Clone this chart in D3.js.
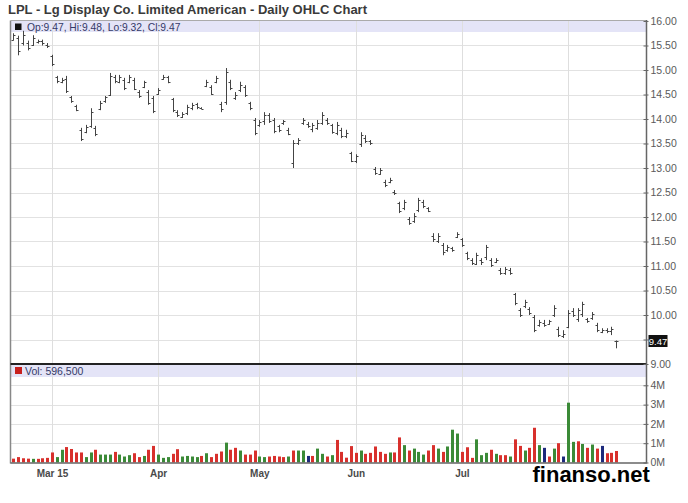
<!DOCTYPE html>
<html>
<head>
<meta charset="utf-8">
<script src="https://cdnjs.cloudflare.com/ajax/libs/d3/7.8.5/d3.min.js"></script>
<title>LPL - Daily OHLC Chart</title>
<style>
body {
	margin: 0;
	background: white;
}
svg text {
	font-family: "Liberation Sans", Arial, sans-serif;
}
.axis path {
	display: none;
}
</style>
</head>
<body>
<div id="chart"></div>
<script>

// -- data (prices in USD, volume in millions of shares)

var firstDay = "2015-02-18",
	lastDay = "2015-08-17";
var holidays = ["2015-04-03", "2015-05-25", "2015-07-03"];

var opens = [
	15.62, 15.65, 15.55, 15.55, 15.52, 15.58, 15.60, 15.52, 15.28, 14.85,
	14.76, 14.82, 14.45, 14.27, 13.78, 13.74, 13.86, 13.82, 14.20, 14.36,
	14.50, 14.85, 14.76, 14.80, 14.76, 14.80, 14.56, 14.66, 14.55, 14.42,
	14.52, 14.82, 14.85, 14.40, 14.15, 14.05, 14.12, 14.22, 14.30, 14.23,
	14.68, 14.65, 14.76, 14.30, 14.35, 14.75, 14.42, 14.60, 14.65, 14.32,
	13.98, 13.88, 13.95, 14.08, 13.98, 13.85, 13.92, 13.78, 13.10, 13.50,
	13.92, 13.90, 13.80, 13.82, 13.92, 13.98, 13.88, 13.72, 13.78, 13.65,
	13.30, 13.14, 13.48, 13.62, 13.55, 12.98, 12.88, 12.72, 12.72, 12.52,
	12.28, 12.18, 11.96, 11.92, 12.15, 12.30, 12.18, 11.62, 11.52, 11.42,
	11.32, 11.36, 11.60, 11.55, 11.26, 11.12, 11.05, 11.12, 11.18, 11.12,
	11.08, 10.92, 10.86, 10.92, 10.42, 10.10, 10.18, 10.12, 9.96, 9.80,
	9.84, 9.82, 10.00, 9.72, 9.58, 9.76, 10.08, 9.92, 10.02, 9.92,
	9.94, 9.80, 9.66, 9.70, 9.68, 9.47
];
var highs = [
	15.75, 15.70, 15.80, 15.60, 15.71, 15.62, 15.62, 15.55, 15.31, 14.88,
	14.84, 14.88, 14.47, 14.29, 13.82, 13.88, 14.22, 13.86, 14.37, 14.47,
	14.94, 14.90, 14.90, 14.84, 14.90, 14.84, 14.59, 14.78, 14.59, 14.47,
	14.63, 14.90, 14.88, 14.43, 14.18, 14.14, 14.29, 14.33, 14.33, 14.24,
	14.80, 14.69, 14.88, 14.35, 15.04, 14.80, 14.55, 14.76, 14.69, 14.35,
	14.02, 13.98, 14.14, 14.12, 14.02, 13.88, 13.98, 13.82, 13.57, 13.61,
	14.02, 13.94, 13.92, 13.98, 14.14, 14.02, 13.90, 13.94, 13.82, 13.78,
	13.33, 13.28, 13.73, 13.67, 13.57, 13.02, 13.00, 12.76, 12.80, 12.55,
	12.31, 12.35, 12.00, 12.08, 12.39, 12.35, 12.20, 11.67, 11.67, 11.47,
	11.43, 11.39, 11.69, 11.57, 11.29, 11.16, 11.27, 11.16, 11.43, 11.16,
	11.16, 10.96, 10.98, 10.96, 10.45, 10.14, 10.31, 10.16, 10.00, 9.90,
	9.90, 9.90, 10.20, 9.76, 9.69, 10.10, 10.14, 10.14, 10.27, 9.94,
	10.06, 9.84, 9.73, 9.73, 9.76, 9.48
];
var lows = [
	15.60, 15.30, 15.50, 15.40, 15.49, 15.54, 15.50, 15.45, 15.08, 14.73,
	14.73, 14.53, 14.33, 14.16, 13.55, 13.71, 13.82, 13.65, 14.18, 14.33,
	14.47, 14.73, 14.73, 14.59, 14.73, 14.59, 14.43, 14.63, 14.29, 14.12,
	14.49, 14.80, 14.73, 14.14, 14.04, 14.02, 14.08, 14.18, 14.20, 14.20,
	14.65, 14.49, 14.73, 14.14, 14.29, 14.59, 14.39, 14.55, 14.45, 14.18,
	13.67, 13.84, 13.88, 13.92, 13.71, 13.73, 13.88, 13.67, 13.00, 13.47,
	13.88, 13.82, 13.73, 13.78, 13.88, 13.88, 13.70, 13.67, 13.61, 13.61,
	13.12, 13.10, 13.43, 13.51, 13.47, 12.86, 12.86, 12.61, 12.69, 12.45,
	12.08, 12.14, 11.84, 11.88, 12.10, 12.18, 12.10, 11.49, 11.47, 11.22,
	11.29, 11.29, 11.57, 11.39, 11.12, 11.02, 11.02, 11.02, 11.12, 10.98,
	11.06, 10.82, 10.82, 10.82, 10.20, 9.96, 10.14, 10.00, 9.65, 9.76,
	9.76, 9.80, 9.96, 9.55, 9.53, 9.73, 9.96, 9.86, 9.96, 9.84,
	9.90, 9.65, 9.63, 9.63, 9.59, 9.32
];
var closes = [
	15.72, 15.38, 15.72, 15.45, 15.65, 15.60, 15.55, 15.48, 15.12, 14.78,
	14.80, 14.58, 14.36, 14.19, 13.60, 13.84, 14.15, 13.70, 14.32, 14.44,
	14.88, 14.78, 14.86, 14.63, 14.85, 14.62, 14.46, 14.75, 14.33, 14.16,
	14.60, 14.86, 14.76, 14.18, 14.08, 14.10, 14.24, 14.28, 14.25, 14.21,
	14.76, 14.52, 14.84, 14.20, 14.95, 14.64, 14.50, 14.70, 14.48, 14.22,
	13.72, 13.94, 14.08, 13.96, 13.76, 13.77, 13.95, 13.70, 13.52, 13.58,
	13.98, 13.86, 13.88, 13.92, 14.08, 13.92, 13.74, 13.88, 13.66, 13.72,
	13.15, 13.25, 13.68, 13.55, 13.50, 12.90, 12.96, 12.65, 12.76, 12.48,
	12.12, 12.30, 11.88, 12.02, 12.34, 12.22, 12.12, 11.55, 11.62, 11.28,
	11.38, 11.32, 11.66, 11.42, 11.16, 11.06, 11.22, 11.08, 11.38, 11.02,
	11.12, 10.86, 10.94, 10.85, 10.25, 10.00, 10.27, 10.04, 9.70, 9.86,
	9.80, 9.87, 10.15, 9.60, 9.62, 10.05, 10.00, 10.10, 10.22, 9.87,
	10.02, 9.70, 9.70, 9.68, 9.72, 9.47
];
var volumes = [
	0.20, 0.28, 0.22, 0.20, 0.19, 0.19, 0.22, 0.24, 0.52, 0.28,
	0.66, 0.80, 0.70, 0.52, 0.52, 0.28, 0.52, 0.66, 0.41, 0.41,
	0.41, 0.55, 0.41, 0.31, 0.38, 0.48, 0.28, 0.34, 0.66, 0.86,
	0.41, 0.24, 0.28, 0.45, 0.69, 0.31, 0.34, 0.31, 0.28, 0.34,
	0.48, 0.28, 0.45, 0.57, 1.03, 0.66, 0.76, 0.62, 0.41, 0.41,
	0.62, 0.31, 0.28, 0.31, 0.34, 0.31, 0.28, 0.31, 0.62, 0.62,
	0.62, 0.34, 0.34, 0.72, 0.45, 0.31, 0.38, 1.17, 0.55, 0.25,
	0.85, 0.50, 0.62, 0.45, 0.50, 0.83, 0.55, 0.45, 0.52, 0.52,
	1.30, 0.90, 0.62, 0.72, 0.55, 0.41, 0.62, 0.90, 0.72, 0.55,
	0.83, 1.70, 1.50, 0.55, 0.79, 0.24, 1.20, 0.38, 0.50, 0.66,
	0.45, 0.38, 0.38, 0.31, 1.20, 0.86, 0.62, 0.76, 1.80, 0.90,
	0.76, 0.31, 0.72, 1.00, 0.31, 3.10, 1.07, 1.10, 0.96, 0.76,
	0.93, 0.72, 0.86, 0.48, 0.50, 0.5965
];
// r = down, g = up, b = unchanged
var volDirs = (
	"rrrrgrrrrg" + "grrrrggrgg" + "grgggrrgrr" + "gggrrggggr" +
	"grrrgrrgrr" + "rggrrrrgrg" + "gbrggrgrrr" + "rrgrrrrrgr" +
	"rgrgggrrgr" + "gggrrrgggr" + "grrgrrgrrg" + "brgrbggrgr" +
	"grbrrr").split("");

// the Aug label sits under the watermark in the original, so it has no text
var monthStarts = ["2015-03-02", "2015-04-01", "2015-05-01", "2015-06-01", "2015-07-01", "2015-08-03"];
var monthLabels = ["Mar 15", "Apr", "May", "Jun", "Jul"];
var priceTicks = [9, 9.5, 10, 10.5, 11, 11.5, 12, 12.5, 13, 13.5, 14, 14.5, 15, 15.5, 16];
var volTicks = [0, 1, 2, 3, 4];

var title = "LPL - Lg Display Co. Limited American - Daily OHLC Chart";
var priceLegend = "Op:9.47, Hi:9.48, Lo:9.32, Cl:9.47";
var volLegend = "Vol: 596,500";
var lastPrice = 9.47;

// -- trading days

var parseDay = d3.timeParse("%Y-%m-%d"),
	fmtDay = d3.timeFormat("%Y-%m-%d");
var days = d3.timeDay.range(parseDay(firstDay), d3.timeDay.offset(parseDay(lastDay), 1))
	.filter(d => d.getDay() != 0 && d.getDay() != 6 && holidays.indexOf(fmtDay(d)) < 0)
	.map(fmtDay);

var bars = days.map((d, i) => ({
	i: i, o: opens[i], h: highs[i], l: lows[i], c: closes[i],
	v: volumes[i], dir: volDirs[i]
}));

var monthIdx = monthStarts.map(m => days.indexOf(m));

// -- layout

var width = 688, height = 503;
var plotL = 10.5, plotR = 646.5;
var priceTop = 21, priceBot = 364;
var volBot = 462.5;

var colors = { r: "#d8302c", g: "#3b8a37", b: "#1d2a7c" };

var svg = d3.select("#chart")
	.append("svg")
		.attr("width", width)
		.attr("height", height);

var x = d3.scaleLinear()
	.domain([0, days.length - 1])
	.range([13.4, 616.2]);

var y = d3.scaleLinear()
	.domain([9, 16])
	.range([priceBot, priceTop]);

var v = d3.scaleLinear()
	.domain([0, 4])
	.range([volBot, volBot - 4 * 19.3]);

var px = i => Math.round(x(i)) + 0.5;

// -- legend bands

svg.append("rect")
	.attr("x", plotL).attr("y", priceTop)
	.attr("width", plotR - plotL).attr("height", 11)
	.attr("fill", "#e4e4f7");
svg.append("rect")
	.attr("x", plotL).attr("y", priceBot)
	.attr("width", plotR - plotL).attr("height", 13)
	.attr("fill", "#e4e4f7");

// -- grid

svg.append("g")
	.selectAll("line")
	.data(priceTicks.filter(t => t > 9 && t < 16))
	.enter()
	.append("line")
		.attr("x1", plotL).attr("x2", plotR)
		.attr("y1", d => Math.round(y(d)) + 0.5)
		.attr("y2", d => Math.round(y(d)) + 0.5)
		.attr("stroke", "#e2e2e2");

svg.append("g")
	.selectAll("line")
	.data(volTicks.filter(t => t > 0))
	.enter()
	.append("line")
		.attr("x1", plotL).attr("x2", plotR)
		.attr("y1", d => Math.round(v(d)) + 0.5)
		.attr("y2", d => Math.round(v(d)) + 0.5)
		.attr("stroke", "#e2e2e2");

svg.append("g")
	.selectAll("line")
	.data(monthIdx)
	.enter()
	.append("line")
		.attr("x1", d => px(d)).attr("x2", d => px(d))
		.attr("y1", priceTop).attr("y2", volBot)
		.attr("stroke", "#dedede");

// -- legend texts

svg.append("rect")
	.attr("x", 15).attr("y", 23.5)
	.attr("width", 6.5).attr("height", 6.5)
	.attr("fill", "#111");
svg.append("text")
	.attr("x", 27).attr("y", 30.5)
	.attr("font-size", "10.3px")
	.attr("fill", "#353a68")
	.text(priceLegend);

svg.append("rect")
	.attr("x", 15).attr("y", 367)
	.attr("width", 7).attr("height", 7)
	.attr("fill", "#c8201e");
svg.append("text")
	.attr("x", 25).attr("y", 375)
	.attr("font-size", "10.5px")
	.attr("fill", "#353a68")
	.text(volLegend);

// -- volume

svg.append("g")
	.selectAll("rect")
	.data(bars)
	.enter()
	.append("rect")
		.attr("x", d => px(d.i) - 1.5)
		.attr("y", d => v(d.v))
		.attr("width", 3)
		.attr("height", d => volBot - v(d.v))
		.attr("fill", d => colors[d.dir]);

// -- ohlc

var ohlc = svg.append("g")
	.attr("stroke", "#444")
	.attr("stroke-width", 1)
	.selectAll("g")
	.data(bars)
	.enter()
	.append("g");

ohlc.append("line")
	.attr("x1", d => px(d.i)).attr("x2", d => px(d.i))
	.attr("y1", d => y(d.h)).attr("y2", d => y(d.l));
ohlc.append("line")
	.attr("x1", d => px(d.i) - 2).attr("x2", d => px(d.i))
	.attr("y1", d => Math.round(y(d.o)) + 0.5)
	.attr("y2", d => Math.round(y(d.o)) + 0.5);
ohlc.append("line")
	.attr("x1", d => px(d.i)).attr("x2", d => px(d.i) + 2)
	.attr("y1", d => Math.round(y(d.c)) + 0.5)
	.attr("y2", d => Math.round(y(d.c)) + 0.5);

// -- frame

svg.append("line")
	.attr("x1", plotL).attr("x2", plotL)
	.attr("y1", priceTop - 0.5).attr("y2", volBot + 1)
	.attr("stroke", "#888").attr("stroke-width", 1.5);
svg.append("line")
	.attr("x1", plotL).attr("x2", plotR)
	.attr("y1", priceTop - 0.5).attr("y2", priceTop - 0.5)
	.attr("stroke", "#aaa");
svg.append("line")
	.attr("x1", plotL).attr("x2", plotR)
	.attr("y1", priceBot).attr("y2", priceBot)
	.attr("stroke", "#222").attr("stroke-width", 2);
svg.append("line")
	.attr("x1", plotL).attr("x2", plotR)
	.attr("y1", volBot + 0.5).attr("y2", volBot + 0.5)
	.attr("stroke", "#666").attr("stroke-width", 1.5);
svg.append("line")
	.attr("x1", plotR).attr("x2", plotR)
	.attr("y1", priceTop - 1).attr("y2", volBot + 1)
	.attr("stroke", "#666").attr("stroke-width", 1.5);

// -- axes (the last price marker takes the place of the 9.50 label)

svg.append("g")
	.attr("class", "axis")
	.attr("transform", "translate(" + plotR + ",0)")
	.call(d3.axisRight(y).tickValues(priceTicks)
		.tickFormat(d => Math.abs(d - lastPrice) < 0.1 ? "" : d3.format(".2f")(d))
		.tickSize(2).tickPadding(2));

svg.append("g")
	.attr("class", "axis")
	.attr("transform", "translate(" + plotR + ",0)")
	.call(d3.axisRight(v).tickValues(volTicks)
		.tickFormat(d => d + "M").tickSize(2).tickPadding(2));

svg.selectAll(".axis .tick line")
	.attr("x1", -3)
	.attr("stroke", "#666");
svg.selectAll(".axis text")
	.attr("font-size", "10.5px")
	.attr("font-family", "\"Liberation Sans\", Arial, sans-serif")
	.attr("fill", "#5a5a5a");

svg.append("g")
	.attr("class", "axis")
	.attr("transform", "translate(0," + volBot + ")")
	.call(d3.axisBottom(x).tickValues(monthIdx)
		.tickFormat((d, i) => monthLabels[i] || "").tickSize(0).tickPadding(7))
	.selectAll("text")
		.attr("font-size", "10px")
		.attr("font-weight", "bold")
		.attr("font-family", "\"Liberation Sans\", Arial, sans-serif")
		.attr("fill", "#4a4a4a");

// -- last price marker

svg.append("rect")
	.attr("x", 648.5).attr("y", Math.round(y(lastPrice)) - 6)
	.attr("width", 19).attr("height", 12)
	.attr("fill", "#111");
svg.append("text")
	.attr("x", 658).attr("y", Math.round(y(lastPrice)) + 3.5)
	.attr("text-anchor", "middle")
	.attr("font-size", "9.5px")
	.attr("fill", "white")
	.text(lastPrice.toFixed(2));

// -- title and watermark

svg.append("text")
	.attr("x", 8).attr("y", 14)
	.attr("font-size", "13px")
	.attr("font-weight", "bold")
	.attr("fill", "#3a3a3a")
	.text(title);

svg.append("text")
	.attr("x", 532.5).attr("y", 482)
	.attr("font-family", "\"DejaVu Sans\", Verdana, sans-serif")
	.attr("font-size", "22px")
	.attr("font-weight", "bold")
	.attr("fill", "black")
	.text("finanso.net");

</script>
</body>
</html>
